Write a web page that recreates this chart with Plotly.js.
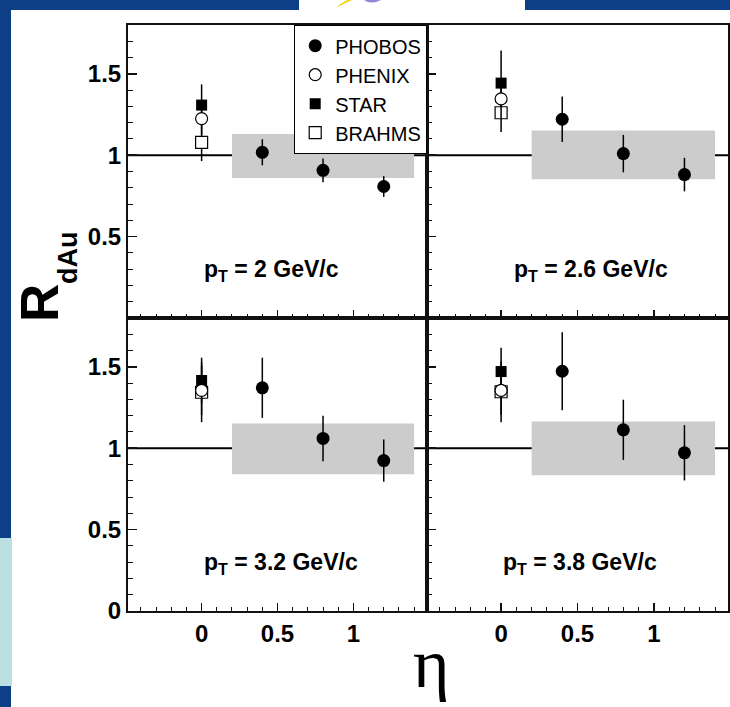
<!DOCTYPE html>
<html>
<head>
<meta charset="utf-8">
<script src="https://cdn.plot.ly/plotly-3.0.1.min.js"></script>
<style>html,body{margin:0;padding:0;background:#fff;}</style>
</head>
<body>
<div id="chart" style="width:730px;height:707px;"></div>
<script>
// ---- data ----
const ptLabels = ["2", "2.6", "3.2", "3.8"];
const phobosEta = [0.4, 0.8, 1.2];
const phobosR = [
  [1.018, 0.907, 0.808],
  [1.221, 1.010, 0.881],
  [1.371, 1.060, 0.924],
  [1.473, 1.113, 0.972]
];
const phobosErr = [
  [0.080, 0.073, 0.064],
  [0.140, 0.115, 0.103],
  [0.185, 0.140, 0.130],
  [0.240, 0.185, 0.170]
];
const midEta = [0];
const starR = [1.308, 1.443, 1.416, 1.471];
const starErr = [0.127, 0.200, 0.140, 0.146];
const phenixR = [1.225, 1.346, 1.355, 1.355];
const phenixErr = [0.100, 0.120, 0.150, 0.150];
const brahmsR = [1.079, 1.261, 1.344, 1.347];
const brahmsErr = [0.115, 0.119, 0.184, 0.187];
const sysEta = [0.2, 1.4];
const sysLow = [0.860, 0.853, 0.840, 0.834];
const sysHigh = [1.130, 1.152, 1.152, 1.164];
const refLevel = 1;
const xTickVals = [0, 0.5, 1];
const yTickValsTop = [0.5, 1, 1.5];
const yTickValsBottom = [0, 0.5, 1, 1.5];

// ---- layout helpers ----
const W = 730, H = 707;
const px = v => v / W;
const py = v => 1 - v / H;
const xDomL = [px(128), px(427)], xDomR = [px(427), px(728)];
const yDomT = [py(318), py(25)], yDomB = [py(611), py(318)];
const FONT = 'Liberation Sans, Arial, Helvetica, sans-serif';
const AX = '#111';

function xAx(domain, anchor, labels) {
  return {
    domain: domain, anchor: anchor, range: [-0.485, 1.485],
    showgrid: false, zeroline: false, showline: true, mirror: true,
    linecolor: AX, linewidth: 2,
    tickmode: 'array', tickvals: xTickVals,
    ticks: 'inside', ticklen: 8, tickwidth: 1.5, tickcolor: AX,
    showticklabels: labels,
    tickfont: {family: FONT, size: 24, weight: 'bold', color: '#000'},
    minor: {tick0: 0, dtick: 0.1, ticks: 'inside', ticklen: 4, tickwidth: 1, tickcolor: AX},
    fixedrange: true
  };
}
function yAx(domain, anchor, labels, vals) {
  return {
    domain: domain, anchor: anchor, range: [0, 1.8],
    showgrid: false, zeroline: false, showline: true, mirror: true,
    linecolor: AX, linewidth: 2,
    tickmode: 'array', tickvals: vals,
    ticks: 'inside', ticklen: 9, tickwidth: 1.5, tickcolor: AX,
    showticklabels: labels,
    tickfont: {family: FONT, size: 24, weight: 'bold', color: '#000'},
    minor: {tick0: 0, dtick: 0.1, ticks: 'inside', ticklen: 5, tickwidth: 1, tickcolor: AX},
    fixedrange: true
  };
}

const axisPairs = [['x', 'y'], ['x2', 'y2'], ['x3', 'y3'], ['x4', 'y4']];
const traces = [];
const shapes = [];
const annotations = [];

// background decorations (slide frame)
const BLUE = '#0d3f86';
shapes.push({type: 'rect', xref: 'paper', yref: 'paper', x0: 0, x1: px(11), y0: 0, y1: 1, fillcolor: BLUE, line: {width: 0}, layer: 'below'});
shapes.push({type: 'rect', xref: 'paper', yref: 'paper', x0: 0, x1: px(299), y0: py(10), y1: 1, fillcolor: BLUE, line: {width: 0}, layer: 'below'});
shapes.push({type: 'rect', xref: 'paper', yref: 'paper', x0: px(525), x1: 1, y0: py(10), y1: 1, fillcolor: BLUE, line: {width: 0}, layer: 'below'});
shapes.push({type: 'rect', xref: 'paper', yref: 'paper', x0: 0, x1: px(12), y0: py(686), y1: py(538), fillcolor: '#b9dfe2', line: {width: 0}, layer: 'below'});
shapes.push({type: 'path', xref: 'paper', yref: 'paper',
  path: `M ${px(336)},${py(8)} Q ${px(343)},${py(4)} ${px(352)},${py(0)} L ${px(347)},${py(0)} Q ${px(341)},${py(3)} ${px(336)},${py(8)} Z`,
  fillcolor: '#f2d31b', line: {width: 0}, layer: 'below'});
shapes.push({type: 'path', xref: 'paper', yref: 'paper',
  path: `M ${px(364)},${py(0)} Q ${px(371)},${py(5)} ${px(381)},${py(0)} Z`,
  fillcolor: '#8f86d8', line: {width: 0}, layer: 'below'});

for (let i = 0; i < 4; i++) {
  const [xa, ya] = axisPairs[i];
  const first = i === 0;
  shapes.push({type: 'rect', xref: xa, yref: ya, x0: sysEta[0], x1: sysEta[1], y0: sysLow[i], y1: sysHigh[i],
    fillcolor: '#cccccc', line: {width: 0}, layer: 'below'});
  shapes.push({type: 'line', xref: xa + ' domain', yref: ya, x0: 0, x1: 1, y0: refLevel, y1: refLevel,
    line: {color: '#000', width: 2}, layer: 'below'});

  traces.push({x: midEta, y: [starR[i]], xaxis: xa, yaxis: ya, type: 'scatter', mode: 'markers',
    name: 'STAR', legendgroup: 'STAR', showlegend: first, legendrank: 3,
    marker: {symbol: 'square', size: 11, color: '#000'},
    error_y: {type: 'data', array: [starErr[i]], color: '#000', thickness: 1.5, width: 0}});
  traces.push({x: midEta, y: [brahmsR[i]], xaxis: xa, yaxis: ya, type: 'scatter', mode: 'markers',
    name: 'BRAHMS', legendgroup: 'BRAHMS', showlegend: first, legendrank: 4,
    marker: {symbol: 'square', size: 12, color: '#fff', line: {color: '#000', width: 1.2}},
    error_y: {type: 'data', array: [brahmsErr[i]], color: '#000', thickness: 1.5, width: 0}});
  traces.push({x: midEta, y: [phenixR[i]], xaxis: xa, yaxis: ya, type: 'scatter', mode: 'markers',
    name: 'PHENIX', legendgroup: 'PHENIX', showlegend: first, legendrank: 2,
    marker: {symbol: 'circle', size: 12, color: '#fff', line: {color: '#000', width: 1.2}},
    error_y: {type: 'data', array: [phenixErr[i]], color: '#000', thickness: 1.5, width: 0}});
  traces.push({x: phobosEta, y: phobosR[i], xaxis: xa, yaxis: ya, type: 'scatter', mode: 'markers',
    name: 'PHOBOS', legendgroup: 'PHOBOS', showlegend: first, legendrank: 1,
    marker: {symbol: 'circle', size: 13, color: '#000'},
    error_y: {type: 'data', array: phobosErr[i], color: '#000', thickness: 1.5, width: 0}});

  annotations.push({xref: xa, yref: ya, x: (i === 1 ? 0.07 : 0), y: 0.29, xanchor: 'left', yanchor: 'middle',
    text: 'p<sub>T</sub> = ' + ptLabels[i] + ' GeV/c', showarrow: false,
    font: {family: FONT, size: 23, weight: 'bold', color: '#000'}});
}

annotations.push({xref: 'paper', yref: 'paper', x: px(39), y: py(303), xanchor: 'center', yanchor: 'middle',
  text: 'R', textangle: -90, showarrow: false, font: {family: FONT, size: 53, weight: 'bold', color: '#000'}});
annotations.push({xref: 'paper', yref: 'paper', x: px(68), y: py(258), xanchor: 'center', yanchor: 'middle',
  text: 'dAu', textangle: -90, showarrow: false, font: {family: FONT, size: 27, weight: 'bold', color: '#000'}});
annotations.push({xref: 'paper', yref: 'paper', x: px(431), y: py(663), xanchor: 'center', yanchor: 'middle',
  text: 'η', showarrow: false, font: {family: 'Liberation Serif, Times New Roman, serif', size: 70, color: '#000'}});

const layout = {
  width: W, height: H,
  margin: {l: 0, r: 0, t: 0, b: 0, pad: 0},
  paper_bgcolor: '#fff', plot_bgcolor: '#fff',
  font: {family: FONT, color: '#000'},
  showlegend: true,
  legend: {x: px(427), xanchor: 'right', y: py(25), yanchor: 'top',
    bgcolor: '#fff', bordercolor: '#000', borderwidth: 1.2,
    font: {family: FONT, size: 20, color: '#000'}, traceorder: 'normal', tracegroupgap: 0, itemwidth: 30},
  xaxis: xAx(xDomL, 'y', false), yaxis: yAx(yDomT, 'x', true, yTickValsTop),
  xaxis2: xAx(xDomR, 'y2', false), yaxis2: yAx(yDomT, 'x2', false, yTickValsTop),
  xaxis3: xAx(xDomL, 'y3', true), yaxis3: yAx(yDomB, 'x3', true, yTickValsBottom),
  xaxis4: xAx(xDomR, 'y4', true), yaxis4: yAx(yDomB, 'x4', false, yTickValsBottom),
  shapes: shapes, annotations: annotations
};

Plotly.newPlot('chart', traces, layout, {displayModeBar: false, staticPlot: true});
</script>
</body>
</html>
